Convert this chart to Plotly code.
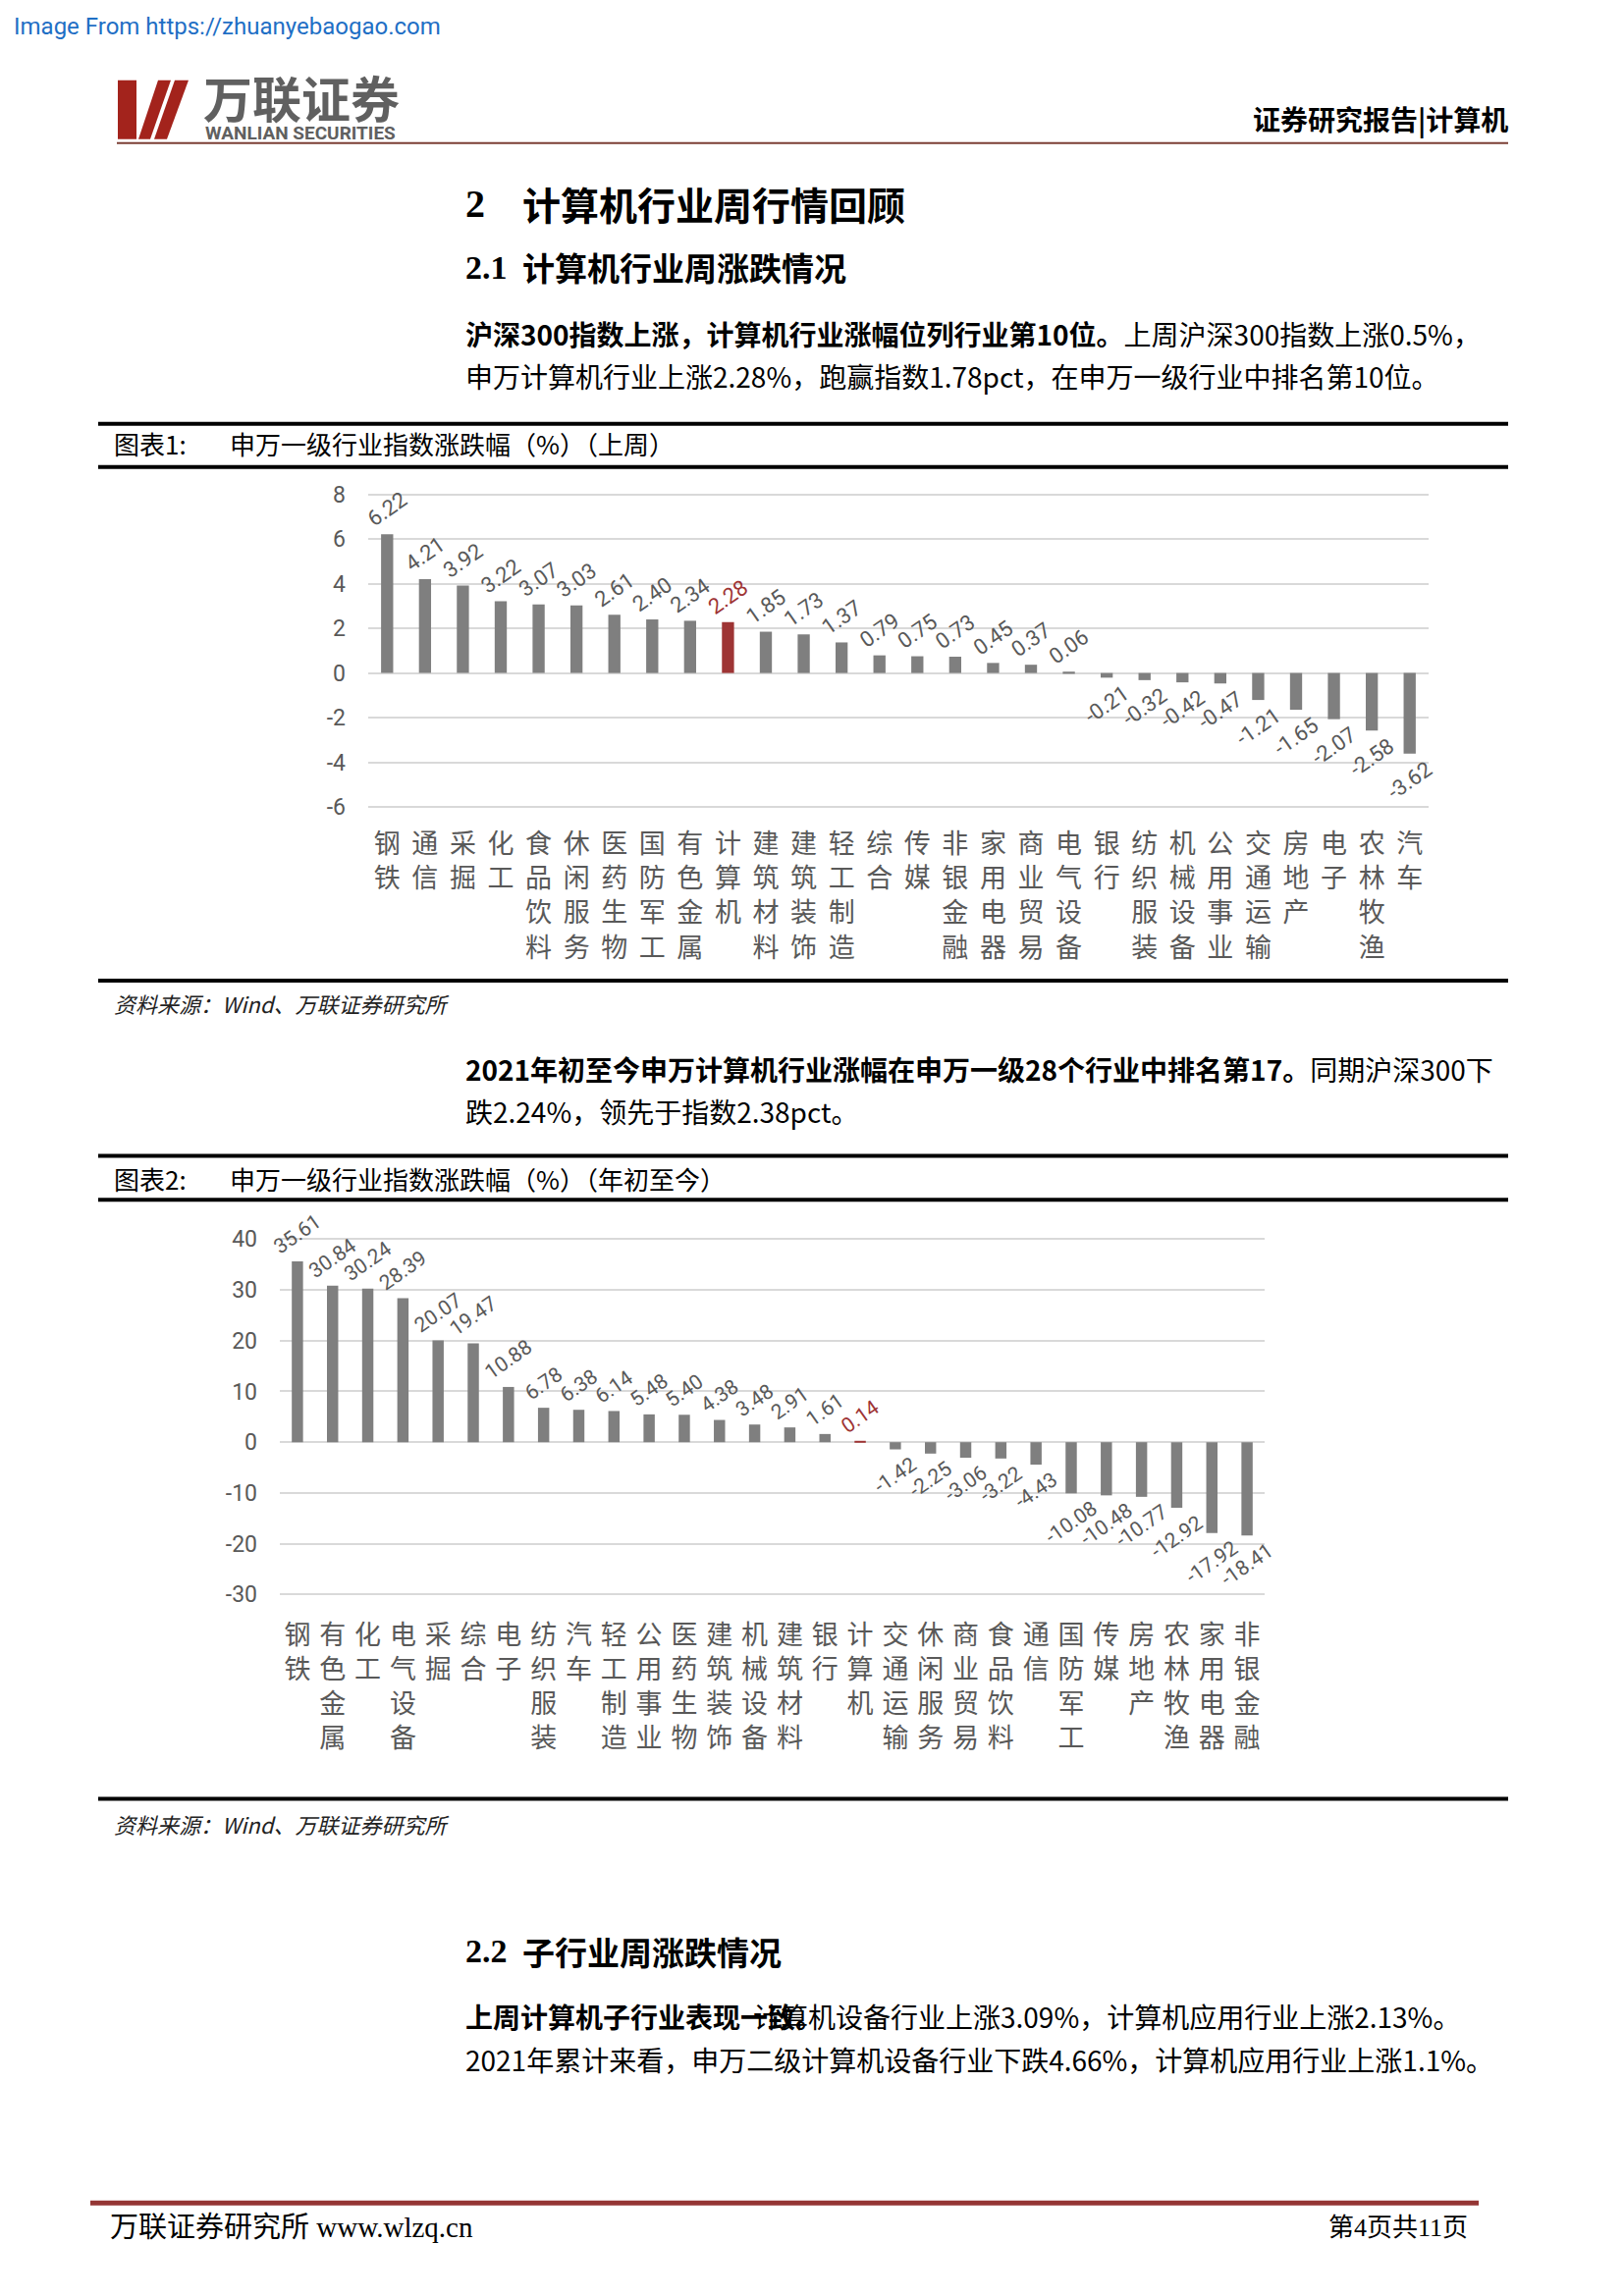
import plotly.graph_objects as go

W, H = 1654, 2339
CJK = "Noto Sans CJK SC"
GRAY_TXT = "#595959"

# ---------------- data ----------------
cats1 = ["钢铁", "通信", "采掘", "化工", "食品饮料", "休闲服务", "医药生物", "国防军工",
         "有色金属", "计算机", "建筑材料", "建筑装饰", "轻工制造", "综合", "传媒", "非银金融",
         "家用电器", "商业贸易", "电气设备", "银行", "纺织服装", "机械设备", "公用事业",
         "交通运输", "房地产", "电子", "农林牧渔", "汽车"]
vals1 = [6.22, 4.21, 3.92, 3.22, 3.07, 3.03, 2.61, 2.40, 2.34, 2.28, 1.85, 1.73, 1.37,
         0.79, 0.75, 0.73, 0.45, 0.37, 0.06, -0.21, -0.32, -0.42, -0.47, -1.21, -1.65,
         -2.07, -2.58, -3.62]

cats2 = ["钢铁", "有色金属", "化工", "电气设备", "采掘", "综合", "电子", "纺织服装", "汽车",
         "轻工制造", "公用事业", "医药生物", "建筑装饰", "机械设备", "建筑材料", "银行",
         "计算机", "交通运输", "休闲服务", "商业贸易", "食品饮料", "通信", "国防军工",
         "传媒", "房地产", "农林牧渔", "家用电器", "非银金融"]
vals2 = [35.61, 30.84, 30.24, 28.39, 20.07, 19.47, 10.88, 6.78, 6.38, 6.14, 5.48, 5.40,
         4.38, 3.48, 2.91, 1.61, 0.14, -1.42, -2.25, -3.06, -3.22, -4.43, -10.08, -10.48,
         -10.77, -12.92, -17.92, -18.41]

highlight = "计算机"
yticks1 = [8, 6, 4, 2, 0, -2, -4, -6]
yticks2 = [40, 30, 20, 10, 0, -10, -20, -30]

BAR_GRAY = "#7f7f7f"
BAR_RED = "#9e3434"

# the page is photographed with a small top offset and slight vertical squeeze;
# layout positions below are target page pixels, mapped back through this.
V_SCALE, V_OFF = 0.9932, 8.0


def px(x):
    return x / W


def py(y):
    yy = y / V_SCALE - V_OFF
    return 1 - yy / H


def vlabel(s):
    return "<br>".join(list(s))


fig = go.Figure()

for cats, vals, xa, ya, fs in [(cats1, vals1, "x", "y", 22), (cats2, vals2, "x2", "y2", 21)]:
    colors = [BAR_RED if c == highlight else BAR_GRAY for c in cats]
    tcolors = [BAR_RED if c == highlight else GRAY_TXT for c in cats]
    fig.add_trace(go.Bar(
        x=[vlabel(c) for c in cats], y=vals,
        marker=dict(color=colors, line=dict(width=0)),
        width=0.32,
        text=[f"{v:.2f}" for v in vals],
        textposition="outside", textangle=-35,
        textfont=dict(family="Roboto", size=fs, color=tcolors),
        constraintext="none", cliponaxis=False,
        xaxis=xa, yaxis=ya, hoverinfo="skip",
    ))

# pixel geometry of the two plots (target page pixels)
c1_lo, c1_hi = -6.1, 8.1
c1_top = 684.6 - c1_hi * 22.8
c1_bot = 684.6 - c1_lo * 22.8
c2_lo, c2_hi = -30.5, 40.5
c2_top = 1470.6 - c2_hi * 5.186
c2_bot = 1470.6 - c2_lo * 5.186

xcommon = dict(type="category", showgrid=False, zeroline=False, showline=False,
               ticks="", tickangle=0,
               tickfont=dict(family=CJK, size=27, color=GRAY_TXT))
ycommon = dict(showgrid=True, gridcolor="#d9d9d9", gridwidth=2, zeroline=False,
               showline=False, ticks="", ticklabelstandoff=22,
               tickfont=dict(family="Roboto", size=23, color=GRAY_TXT))

fig.update_layout(
    width=W, height=H, autosize=False,
    margin=dict(l=0, r=0, t=0, b=0),
    paper_bgcolor="white", plot_bgcolor="white",
    showlegend=False,
    xaxis=dict(domain=[px(375), px(1455)], anchor="y", ticklabelstandoff=17, **xcommon),
    yaxis=dict(domain=[py(c1_bot), py(c1_top)], anchor="x", range=[c1_lo, c1_hi],
               tickvals=yticks1, ticktext=[str(v) for v in yticks1], **ycommon),
    xaxis2=dict(domain=[px(285), px(1288)], anchor="y2", ticklabelstandoff=20, **xcommon),
    yaxis2=dict(domain=[py(c2_bot), py(c2_top)], anchor="x2", range=[c2_lo, c2_hi],
                tickvals=yticks2, ticktext=[str(v) for v in yticks2], **ycommon),
)

# ---------------- text ----------------
anns = []


def ann(x, y, text, size, color="#000000", anchor="left", family=CJK, bold=False, italic=False):
    t = f"<b>{text}</b>" if bold else text
    t = f"<i>{t}</i>" if italic else t
    anns.append(dict(x=px(x), y=py(y), xref="paper", yref="paper", text=t,
                     showarrow=False, xanchor=anchor, yanchor="middle",
                     font=dict(family=family, size=size, color=color)))


ann(12, 24, "Image From https://zhuanyebaogao.com", 24, "#1f6fc5", family="Roboto")
ann(205, 95, "万联证券", 50, "#606060", bold=True)
ann(207, 133, "WANLIAN SECURITIES", 19, "#606060", family="Roboto", bold=True)
ann(1538, 118, "证券研究报告|计算机", 28, anchor="right", bold=True)

ann(472, 205, "2", 40, family="Liberation Serif", bold=True)
ann(530, 205, "计算机行业周行情回顾", 39, bold=True)
ann(472, 270, "2.1", 34, family="Liberation Serif", bold=True)
ann(530, 270, "计算机行业周涨跌情况", 33, bold=True)

ann(472, 338, "<b>沪深300指数上涨，计算机行业涨幅位列行业第10位。</b>上周沪深300指数上涨0.5%，", 28)
ann(472, 381, "申万计算机行业上涨2.28%，跑赢指数1.78pct，在申万一级行业中排名第10位。", 28)

ann(114, 450, "图表1:", 26)
ann(232, 450, "申万一级行业指数涨跌幅（%）（上周）", 26)
ann(114, 1022, "资料来源：Wind、万联证券研究所", 22, "#222222", italic=True)

ann(472, 1089, "<b>2021年初至今申万计算机行业涨幅在申万一级28个行业中排名第17。</b>同期沪深300下", 28)
ann(472, 1132, "跌2.24%，领先于指数2.38pct。", 28)

ann(114, 1201, "图表2:", 26)
ann(232, 1201, "申万一级行业指数涨跌幅（%）（年初至今）", 26)
ann(114, 1861, "资料来源：Wind、万联证券研究所", 22, "#222222", italic=True)

ann(472, 1991, "2.2", 34, family="Liberation Serif", bold=True)
ann(530, 1991, "子行业周涨跌情况", 33, bold=True)
ann(472, 2057, "上周计算机子行业表现一致。", 28, bold=True)
ann(765, 2057, "计算机设备行业上涨3.09%，计算机应用行业上涨2.13%。", 28)
ann(472, 2101, "2021年累计来看，申万二级计算机设备行业下跌4.66%，计算机应用行业上涨1.1%。", 28)

ann(110, 2273, "万联证券研究所 www.wlzq.cn", 29, family="Liberation Serif, " + CJK)
ann(1497, 2273, "第4页共11页", 26, anchor="right", family="Liberation Serif, " + CJK)

fig.update_layout(annotations=anns)

# ---------------- rules and logo ----------------
shapes = []


def hline(x0, x1, y, color, width):
    shapes.append(dict(type="line", xref="paper", yref="paper", x0=px(x0), x1=px(x1),
                       y0=py(y), y1=py(y), line=dict(color=color, width=width)))


def poly(points, color):
    d = "M " + " L ".join(f"{px(a):.5f},{py(b):.5f}" for a, b in points) + " Z"
    shapes.append(dict(type="path", xref="paper", yref="paper", path=d,
                       fillcolor=color, line=dict(width=0)))


hline(119, 1536, 143, "#7b3f35", 2)
for y in (430, 474, 999, 1178, 1223, 1835):
    hline(100, 1536, y, "#000000", 4)
hline(92, 1506, 2248, "#943634", 5)

LOGO_RED = "#a3231c"
poly([(120, 79), (139, 79), (139, 139), (120, 139)], LOGO_RED)
poly([(141, 139), (153, 139), (174, 79), (161, 79)], LOGO_RED)
poly([(157, 139), (170, 139), (192, 79), (178, 79)], LOGO_RED)

fig.update_layout(shapes=shapes)

fig.write_html("out.html")
